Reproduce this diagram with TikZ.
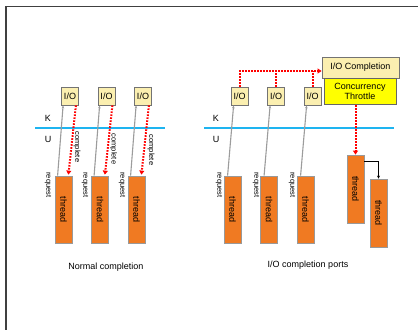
\documentclass[tikz,border=0pt]{standalone}
\usepackage{fontspec}
\setmainfont{Liberation Sans}
\usetikzlibrary{calc,arrows.meta}
\definecolor{kline}{HTML}{1EB4F0}
\definecolor{thr}{HTML}{F07A22}
\definecolor{iofill}{HTML}{FBEFB0}
\definecolor{thfill}{HTML}{FFFF00}
\definecolor{reqgray}{HTML}{9C9C9C}
\tikzset{
  iobox/.style={draw=black!55,fill=iofill,line width=0.8bp,minimum width=17bp,minimum height=18bp,inner sep=0pt,font=\fontsize{9bp}{10bp}\selectfont},
  thbox/.style={draw=black!40,fill=thr,line width=0.8bp,minimum width=17bp,minimum height=67bp,inner sep=0pt,font=\fontsize{9bp}{10bp}\selectfont},
  lbl/.style={inner sep=0pt,font=\fontsize{9bp}{11bp}\selectfont},
  small/.style={inner sep=0pt,font=\fontsize{7.5bp}{9bp}\selectfont,rotate=-90},
  req/.style={draw=reqgray,line width=1.1bp,-{Stealth[length=3bp,width=2.5bp]}},
  compline/.style={draw=red,line width=2bp,dash pattern=on 1.6bp off 1.4bp},
  comp/.style={compline,-{Triangle[length=4bp,width=5bp,sep=0pt]}},
  kuline/.style={draw=kline,line width=2bp},
}
\begin{document}
\begin{tikzpicture}[x=1bp,y=-1bp]
\useasboundingbox (0,0) rectangle (418,330);
\fill[white] (0,0) rectangle (418,330);
\draw[black!75,line width=1.3bp] (6,330) -- (6,6.3) -- (418,6.3);

% K/U lines
\draw[kuline] (35,128) -- (165,128);
\draw[kuline] (204,128) -- (394,128);
\node[lbl] (k1) at (48,118) {K};
\node[lbl] (u1) at (48,139) {U};
\node[lbl] (k2) at (216,118) {K};
\node[lbl] (u2) at (216,139) {U};

% left panel
\node[iobox] (io1) at (70,96) {I/O};
\node[iobox] (io2) at (106.5,96) {I/O};
\node[iobox] (io3) at (143,96) {I/O};
\node[thbox] (t1) at (63.5,209.5) {\rotatebox{-90}{thread}};
\node[thbox] (t2) at (100,209.5) {\rotatebox{-90}{thread}};
\node[thbox] (t3) at (136.5,209.5) {\rotatebox{-90}{thread}};
\foreach \i in {1,2,3}{
  \draw[req] ($(t\i.north west)+(3,0)$) -- ($(io\i.south west)+(2,0)$);
  \draw[comp] ($(io\i.south east)+(-3,0)$) -- ($(t\i.north east)+(-4,-1)$);
}
\node[small] (c1) at (77,147) {complete};
\node[small] (c2) at (113.5,149) {complete};
\node[small] (c3) at (151,150) {complete};
\node[small] (r1) at (48,185) {request};
\node[small] (r2) at (85,185) {request};
\node[small] (r3) at (122,185) {request};
\node[lbl] (cap1) at (106,267) {Normal completion};

% right panel
\node[iobox] (io4) at (239.5,96) {I/O};
\node[iobox] (io5) at (276,96) {I/O};
\node[iobox] (io6) at (312.5,96) {I/O};
\node[draw=black!55,fill=iofill,line width=0.8bp,minimum width=77bp,minimum height=21bp,inner sep=0pt,font=\fontsize{9bp}{11bp}\selectfont] (ioc) at (360.5,67.5) {I/O Completion};
\node[draw=black!60,fill=thfill,line width=0.8bp,minimum width=72bp,minimum height=26.5bp,inner sep=0pt,font=\fontsize{9bp}{10.5bp}\selectfont,align=center] (ct) at (360,91.5) {Concurrency\\Throttle};
\node[thbox] (t4) at (232.5,209.5) {\rotatebox{-90}{thread}};
\node[thbox] (t5) at (269,209.5) {\rotatebox{-90}{thread}};
\node[thbox] (t6) at (305.5,209.5) {\rotatebox{-90}{thread}};
\node[thbox,minimum height=68bp] (t7) at (355.5,189) {\rotatebox{-90}{thread}};
\node[thbox,minimum height=68bp] (t8) at (378.5,213) {\rotatebox{-90}{thread}};
\draw[req] ($(t4.north west)+(4,0)$) -- ($(io4.south west)+(3,0)$);
\draw[req] ($(t5.north west)+(4,0)$) -- ($(io5.south west)+(3,0)$);
\draw[req] ($(t6.north west)+(4,0)$) -- ($(io6.south west)+(3,0)$);
\node[small] (r4) at (219,185) {request};
\node[small] (r5) at (256,185) {request};
\node[small] (r6) at (292,185) {request};
\coordinate (hj) at ($(ioc.west)+(0,3.5)$);
\draw[comp] (io4.north) |- (hj);
\draw[compline] (io5.north) -- (io5.north |- hj);
\draw[compline] (io6.north) -- (io6.north |- hj);
\draw[comp] (ct.south -| t7.north) -- (t7.north);
\draw[black,line width=0.8bp,-{Stealth[length=3bp,width=3bp]}] ($(t7.north east)+(0,7)$) -| (t8.north);
\node[lbl] (cap2) at (308,265) {I/O completion ports};
\end{tikzpicture}
\end{document}
